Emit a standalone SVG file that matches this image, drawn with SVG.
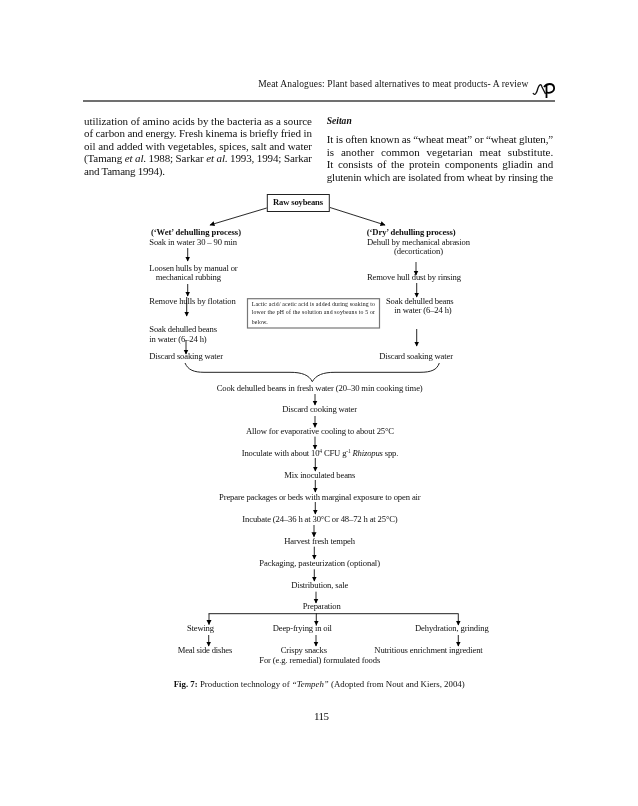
<svg xmlns="http://www.w3.org/2000/svg" width="638" height="806" viewBox="0 0 638 806">
<style>
text{font-family:"Liberation Serif","Times New Roman",serif;fill:#111}
.body{font-size:11px}
.head{font-size:9.5px}
.fig{font-size:8.6px}
.b{font-weight:bold}
.i{font-style:italic}
.note{font-size:5.8px}
.cap{font-size:8.8px}
.sup{font-size:5.5px}
.conn line{stroke:#111;stroke-width:.9;fill:none;marker-end:url(#ah)}
.plain{stroke:#222;stroke-width:1;fill:none}
.soft{filter:url(#soft)}
.soft2{filter:url(#soft2)}
</style>
<defs>
<marker id="ah" markerUnits="userSpaceOnUse" markerWidth="6" markerHeight="6" refX="4.5" refY="3" orient="auto">
<path d="M0 .5L5 3L0 5.5Z" fill="#000"/>
</marker>
<filter id="soft" x="-5%" y="-5%" width="110%" height="110%"><feGaussianBlur stdDeviation=".38"/></filter>
<filter id="soft2" x="-5%" y="-5%" width="110%" height="110%"><feGaussianBlur stdDeviation=".25"/></filter>
</defs>
<rect width="638" height="806" fill="#fff"/>
<g id="page-header" class="soft2">
<text class="head" x="258.3" y="87" textLength="270">Meat Analogues: Plant based alternatives to meat products- A review</text>
<path d="M533 93C535 97 537 92 538 88C539 85 541 83 542 87L545.500 94" fill="none" stroke="#111" stroke-width="1.3"/>
<path d="M544 87C547 83 553 83 554 87C555 92 549 94 546 92" fill="none" stroke="#000" stroke-width="1.8"/>
<path d="M546.500 85V98" fill="none" stroke="#000" stroke-width="1.8"/>
<rect x="83" y="100.4" width="472" height="1.2" fill="#111"/>
</g>
<g id="body-left" class="soft2">
<text class="body" x="84" y="124.5" textLength="228">utilization of amino acids by the bacteria as a source</text>
<text class="body" x="84" y="137" textLength="228">of carbon and energy. Fresh kinema is briefly fried in</text>
<text class="body" x="84" y="149.5" textLength="228">oil and added with vegetables, spices, salt and water</text>
<text class="body" x="84" y="162" textLength="228">(Tamang <tspan class="i">et al</tspan>. 1988; Sarkar <tspan class="i">et al</tspan>. 1993, 1994; Sarkar</text>
<text class="body" x="84" y="175" textLength="81">and Tamang 1994).</text>
</g>
<g id="body-right" class="soft2">
<text class="b i" x="326.7" y="124" style="font-size:9.5px" textLength="25">Seitan</text>
<text class="body" x="326.7" y="143" textLength="226.5">It is often known as “wheat meat” or “wheat gluten,”</text>
<text class="body" x="326.7" y="155.5" textLength="226.5" style="word-spacing:4px">is another common vegetarian meat substitute.</text>
<text class="body" x="326.7" y="168" textLength="226.5" style="word-spacing:1.8px">It consists of the protein components gliadin and</text>
<text class="body" x="326.7" y="180.5" textLength="226.5">glutenin which are isolated from wheat by rinsing the</text>
</g>
<g id="raw-soybeans" class="soft">
<rect x="267.3" y="194.5" width="62" height="17" fill="#fff" stroke="#222" stroke-width="1"/>
<text class="fig b" x="273" y="205" textLength="50">Raw soybeans</text>
</g>
<g id="wet-column" class="soft">
<text class="fig b" x="151" y="235" textLength="90">(‘Wet’ dehulling process)</text>
<text class="fig" x="149.3" y="244.5" textLength="87.7">Soak in water 30 – 90 min</text>
<text class="fig" x="149.3" y="270.7" textLength="88.4">Loosen hulls by manual or</text>
<text class="fig" x="155.7" y="280" textLength="65.3">mechanical rubbing</text>
<text class="fig" x="149.3" y="303.5" textLength="86.4">Remove hulls by flotation</text>
<text class="fig" x="149.3" y="332" textLength="67.7">Soak dehulled beans</text>
<text class="fig" x="149.3" y="341.7" textLength="57.4">in water (6–24 h)</text>
<text class="fig" x="149.3" y="359" textLength="73.7">Discard soaking water</text>
</g>
<g id="dry-column" class="soft">
<text class="fig b" x="366.7" y="235" textLength="89">(‘Dry’ dehulling process)</text>
<text class="fig" x="367" y="244.5" textLength="103">Dehull by mechanical abrasion</text>
<text class="fig" x="394" y="254" textLength="49">(decortication)</text>
<text class="fig" x="367" y="280" textLength="94">Remove hull dust by rinsing</text>
<text class="fig" x="386" y="303.5" textLength="67.7">Soak dehulled beans</text>
<text class="fig" x="394.3" y="313" textLength="57.4">in water (6–24 h)</text>
<text class="fig" x="379.3" y="359" textLength="73.7">Discard soaking water</text>
</g>
<g id="note" class="soft">
<rect x="247.5" y="298.7" width="132" height="29.3" fill="#fff" stroke="#777" stroke-width="1.2"/>
<text class="note" x="251.7" y="305.5" textLength="123.3">Lactic acid/ acetic acid is added during soaking to</text>
<text class="note" x="251.7" y="313.8" textLength="123.3">lower the pH of the solution and soybeans to 5 or</text>
<text class="note" x="251.7" y="323.5" textLength="16">below.</text>
</g>
<g id="main-steps" class="soft">
<text class="fig" x="216.7" y="390.7" textLength="206">Cook dehulled beans in fresh water (20–30 min cooking time)</text>
<text class="fig" x="282.3" y="412.3" textLength="74.7">Discard cooking water</text>
<text class="fig" x="246" y="434" textLength="148">Allow for evaporative cooling to about 25°C</text>
<text class="fig" x="241.7" y="456" textLength="156.6">Inoculate with about 10<tspan class="sup" dy="-3">4</tspan><tspan dy="3"> CFU g</tspan><tspan class="sup" dy="-3">-1</tspan><tspan class="i" dy="3"> Rhizopus</tspan> spp.</text>
<text class="fig" x="284.3" y="478" textLength="71">Mix inoculated beans</text>
<text class="fig" x="219" y="500" textLength="201.7">Prepare packages or beds with marginal exposure to open air</text>
<text class="fig" x="242.3" y="522" textLength="155.4">Incubate (24–36 h at 30°C or 48–72 h at 25°C)</text>
<text class="fig" x="284.3" y="544" textLength="70.7">Harvest fresh tempeh</text>
<text class="fig" x="259.3" y="565.5" textLength="120.7">Packaging, pasteurization (optional)</text>
<text class="fig" x="291.3" y="587.7" textLength="57">Distribution, sale</text>
<text class="fig" x="302.7" y="609.3" textLength="38">Preparation</text>
</g>
<g id="outcomes" class="soft">
<text class="fig" x="187" y="631.3" textLength="27">Stewing</text>
<text class="fig" x="272.7" y="631.3" textLength="59.3">Deep-frying in oil</text>
<text class="fig" x="415" y="631.3" textLength="73.7">Dehydration, grinding</text>
<text class="fig" x="177.7" y="653" textLength="54.6">Meal side dishes</text>
<text class="fig" x="280.7" y="653" textLength="46.3">Crispy snacks</text>
<text class="fig" x="374.3" y="653" textLength="108.4">Nutritious enrichment ingredient</text>
<text class="fig" x="259.3" y="662.7" textLength="121">For (e.g. remedial) formulated foods</text>
</g>
<g id="caption" class="soft2">
<text class="cap" x="173.7" y="686.7" textLength="291"><tspan class="b">Fig. 7:</tspan> Production technology of <tspan class="i">“Tempeh”</tspan> (Adopted from Nout and Kiers, 2004)</text>
<text class="body" x="314" y="720" textLength="15">115</text>
</g>
<g id="connectors" class="conn soft2">
<line x1="266.7" y1="208" x2="210" y2="225"/>
<line x1="330" y1="207.5" x2="385" y2="225"/>
<line x1="187.7" y1="248" x2="187.7" y2="261"/>
<line x1="187.7" y1="284" x2="187.7" y2="296"/>
<line x1="186.7" y1="297" x2="186.7" y2="316"/>
<line x1="186" y1="340" x2="186" y2="354"/>
<line x1="416" y1="262" x2="416" y2="275"/>
<line x1="416.7" y1="283" x2="416.7" y2="297"/>
<line x1="416.7" y1="329" x2="416.7" y2="346"/>
<line x1="315" y1="394" x2="315" y2="405"/>
<line x1="315" y1="416" x2="315" y2="427.3"/>
<line x1="315" y1="436.7" x2="315" y2="449"/>
<line x1="315.3" y1="458" x2="315.3" y2="471"/>
<line x1="315.3" y1="480" x2="315.3" y2="492"/>
<line x1="315.3" y1="502" x2="315.3" y2="514"/>
<line x1="314" y1="525" x2="314" y2="536.7"/>
<line x1="314.3" y1="546.7" x2="314.3" y2="559"/>
<line x1="314.3" y1="569.3" x2="314.3" y2="581"/>
<line x1="316" y1="591.7" x2="316" y2="603"/>
<line x1="209" y1="613.7" x2="209" y2="624.5"/>
<line x1="316.3" y1="613" x2="316.3" y2="625"/>
<line x1="458.3" y1="613.7" x2="458.3" y2="625"/>
<line x1="208.7" y1="635" x2="208.7" y2="646"/>
<line x1="316" y1="635" x2="316" y2="646"/>
<line x1="458.3" y1="635" x2="458.3" y2="646"/>
<path class="plain" d="M208.5 613.7H458.5"/>
<path class="plain" d="M185 363C188 370 194 372.3 204 372.3H290C302 372.3 309 375 312.3 381.7C316 375 323 372.3 335 372.3H420C431 372.3 437 370 439.3 363"/>
</g>
</svg>
